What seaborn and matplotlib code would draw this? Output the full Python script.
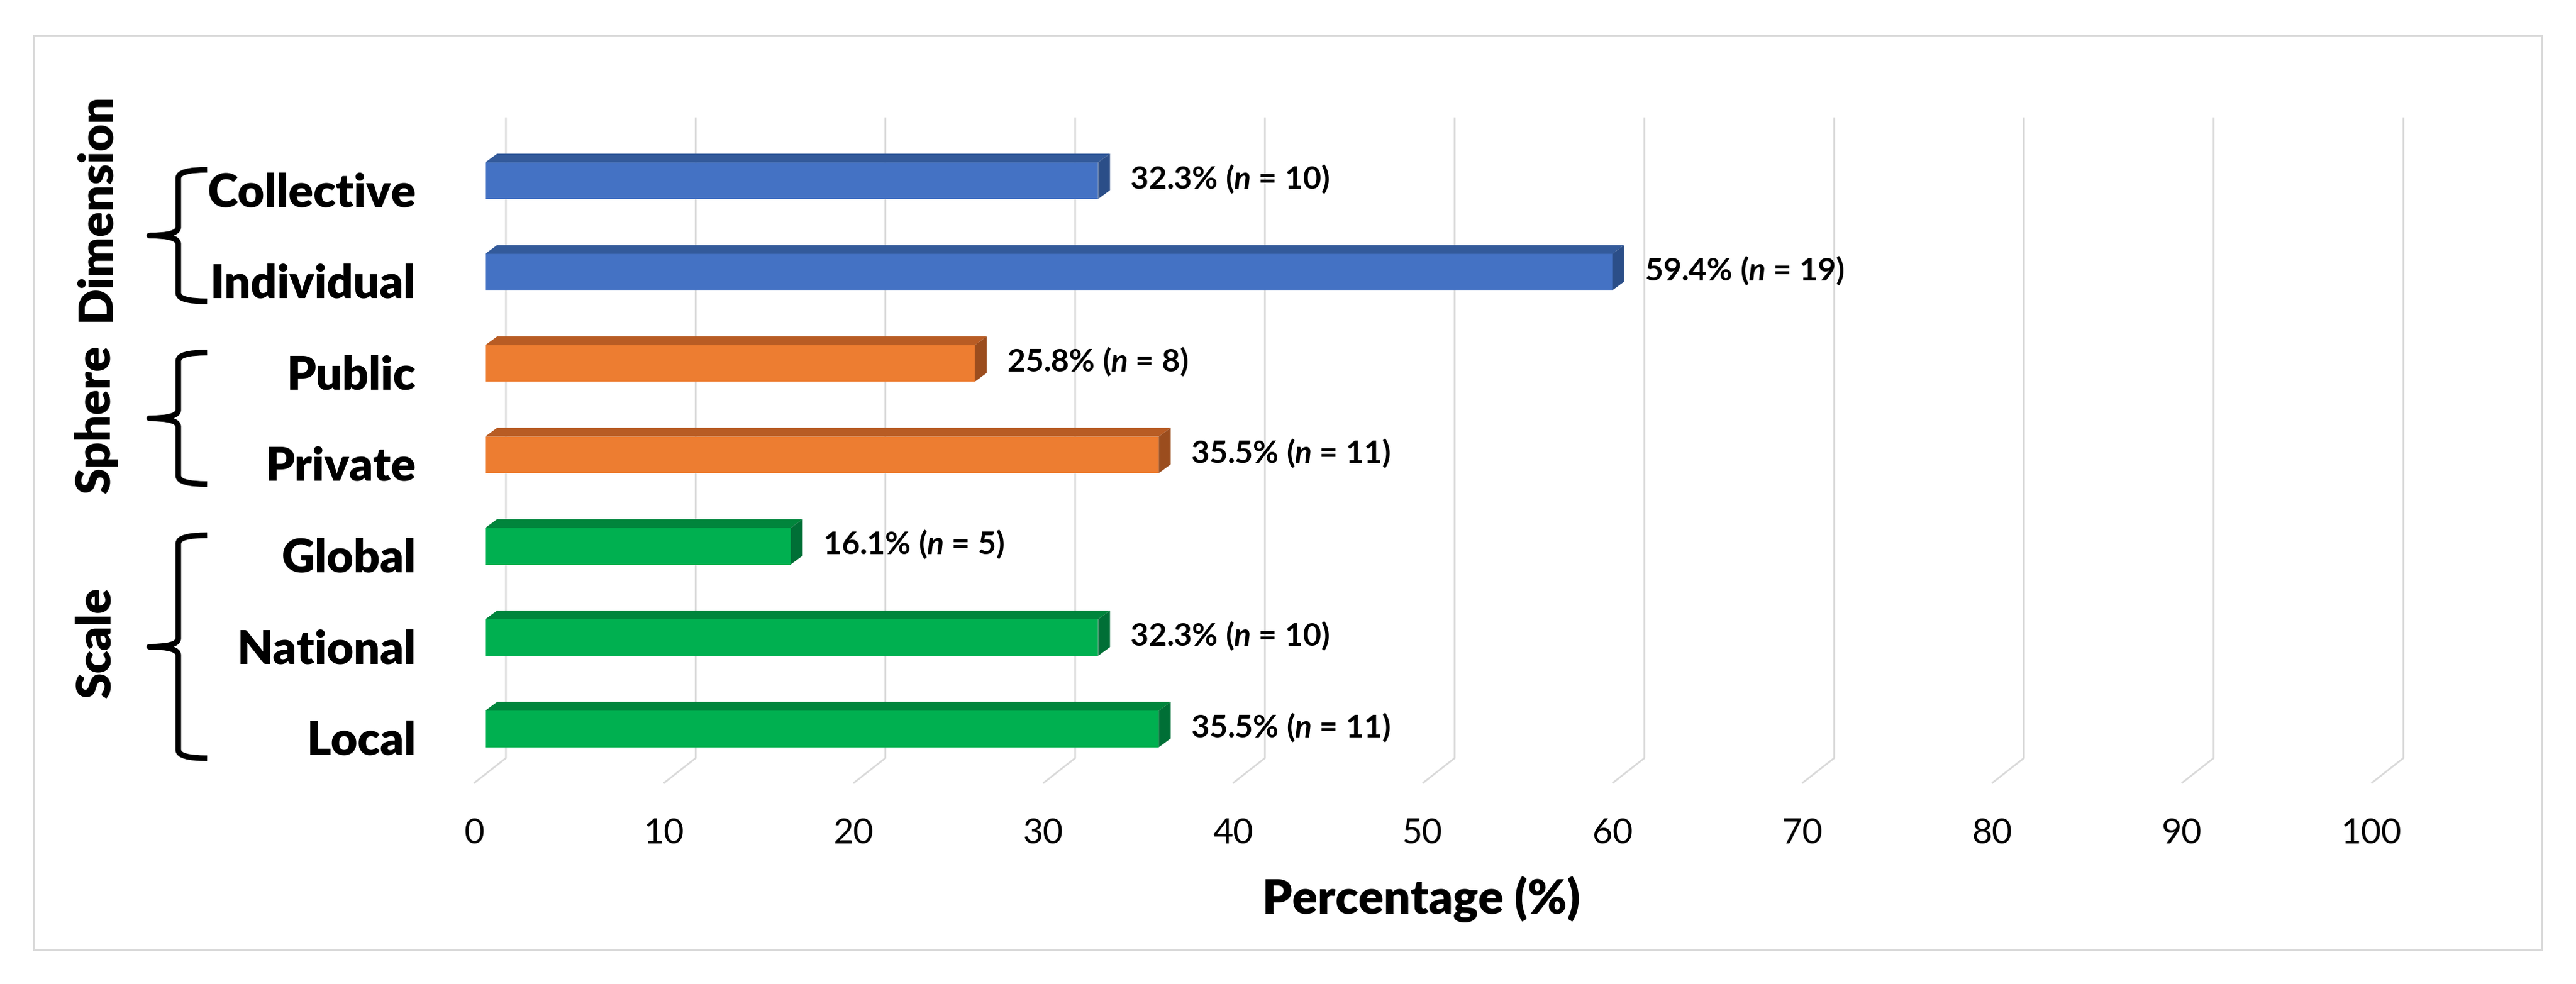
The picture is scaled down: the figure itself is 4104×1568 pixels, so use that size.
import matplotlib
matplotlib.use("Agg")
import matplotlib.pyplot as plt
import matplotlib.transforms as mtransforms
from matplotlib.patches import Polygon, Rectangle, PathPatch
from matplotlib.path import Path
import seaborn as sns
import pandas as pd

# ---------------- data ----------------
categories = ["Collective", "Individual", "Public", "Private", "Global", "National", "Local"]
groups = ["Dimension", "Dimension", "Sphere", "Sphere", "Scale", "Scale", "Scale"]
group_names = ["Dimension", "Sphere", "Scale"]
percentages = [32.3, 59.4, 25.8, 35.5, 16.1, 32.3, 35.5]
counts = [10, 19, 8, 11, 5, 10, 11]
x_ticks = [0, 10, 20, 30, 40, 50, 60, 70, 80, 90, 100]
x_label = "Percentage (%)"

# ---------------- style ----------------
front_colors = {"Dimension": "#4472C4", "Sphere": "#ED7D31", "Scale": "#00B050"}
top_colors = {"Dimension": "#335A9A", "Sphere": "#B85C24", "Scale": "#00853C"}
side_colors = {"Dimension": "#2B4E88", "Sphere": "#9B4D1E", "Scale": "#006F36"}
grid_color = "#D9D9D9"

sns.set_style("white")
plt.rcParams["font.family"] = ["Lato", "DejaVu Sans"]
plt.rcParams["mathtext.fontset"] = "custom"
plt.rcParams["mathtext.it"] = "Lato:bold:italic"
plt.rcParams["mathtext.rm"] = "Lato:bold"
plt.rcParams["mathtext.bf"] = "Lato:bold"

W, H, DPI = 4104, 1568, 100
fig = plt.figure(figsize=(W / DPI, H / DPI), dpi=DPI)

# layout (pixels)
PXX = 30.23   # px per percent
PXY = 145.6   # px per category step
X0PX = 773    # pixel of value 0 on bar front face
Y0PX = 288    # pixel of first category centre
xlim = (-3, 107)
ylim = (6.8, -1.0)
left = X0PX + xlim[0] * PXX
right = X0PX + xlim[1] * PXX
top = Y0PX + ylim[1] * PXY
bottom = Y0PX + ylim[0] * PXY
ax = fig.add_axes([left / W, 1 - bottom / H, (right - left) / W, (bottom - top) / H])

df = pd.DataFrame({"category": categories, "group": groups, "pct": percentages, "n": counts})
sns.barplot(data=df, x="pct", y="category", hue="group", hue_order=group_names,
            palette=front_colors, orient="h", dodge=False, width=0.40, legend=False,
            linewidth=0, saturation=1, ax=ax, zorder=3)

ax.set_xlim(*xlim)
ax.set_ylim(*ylim)

# 3D depth offsets
ddx = 19 / PXX
ddy = -14 / PXY
# back-wall / floor offsets for the gridlines
gx = 33 / PXX
fx = -18 / PXX
g_top = (187 - Y0PX) / PXY
g_floor = (1208 - Y0PX) / PXY
g_front = (1248 - Y0PX) / PXY

for t in x_ticks:
    ax.plot([t + gx, t + gx, t + fx], [g_top, g_floor, g_front], color=grid_color,
            lw=2.0, zorder=0, clip_on=False, solid_capstyle="butt")

for p in list(ax.patches):
    w = p.get_width()
    if w <= 0:
        continue
    x0, y0, h = p.get_x(), p.get_y(), p.get_height()
    idx = int(round(y0 + h / 2))
    g = groups[idx]
    top_face = Polygon([(x0, y0), (x0 + w, y0), (x0 + w + ddx, y0 + ddy), (x0 + ddx, y0 + ddy)],
                       closed=True, fc=top_colors[g], ec="none", zorder=3)
    side_face = Polygon([(x0 + w, y0), (x0 + w + ddx, y0 + ddy), (x0 + w + ddx, y0 + h + ddy),
                         (x0 + w, y0 + h)], closed=True, fc=side_colors[g], ec="none", zorder=3)
    ax.add_patch(top_face)
    ax.add_patch(side_face)
    ax.text(x0 + w + ddx + 1.06, y0 + h / 2 - 0.02,
            f"{percentages[idx]:.1f}% ($n$ = {counts[idx]})",
            ha="left", va="center", fontsize=36, fontweight="bold", color="black", zorder=4)

# ticks
ax.set_xticks([t + fx for t in x_ticks], labels=[str(t) for t in x_ticks])
ax.set_yticks([i + 20 / PXY for i in range(len(categories))], labels=categories)
ax.tick_params(axis="x", length=0, pad=36, labelsize=40, labelcolor="black")
ax.tick_params(axis="y", length=0, pad=14, labelsize=53, labelcolor="black")
for lbl in ax.get_xticklabels():
    lbl.set_va("center")
for lbl in ax.get_yticklabels():
    lbl.set_fontweight("heavy")
    lbl.set_va("center")
ax.grid(False)
for s in ax.spines.values():
    s.set_visible(False)
ax.set_ylabel("")
ax.set_xlabel(x_label, fontsize=54, fontweight="heavy", color="black")
ax.xaxis.label.set_va("center")
ax.xaxis.set_label_coords((2264 - left) / (right - left), (bottom - 1433) / (bottom - top))

# braces and group labels
btrans = mtransforms.blended_transform_factory(fig.transFigure, ax.transData)
tip_x, vert_x, hook_x = 238 / W, 284 / W, 330 / W
r = 0.09
group_label_y = {"Dimension": 0.29, "Sphere": 2.61, "Scale": 5.05}
for gname in group_names:
    idxs = [i for i, g in enumerate(groups) if g == gname]
    a = idxs[0] - 0.12
    b = idxs[-1] + 0.32
    m = (a + b) / 2
    verts = [(hook_x, a), (vert_x, a), (vert_x, a + r),
             (vert_x, m - r), (vert_x, m), (tip_x, m),
             (vert_x, m), (vert_x, m + r),
             (vert_x, b - r), (vert_x, b), (hook_x, b)]
    codes = [Path.MOVETO, Path.CURVE3, Path.CURVE3,
             Path.LINETO, Path.CURVE3, Path.CURVE3,
             Path.CURVE3, Path.CURVE3,
             Path.LINETO, Path.CURVE3, Path.CURVE3]
    ax.add_patch(PathPatch(Path(verts, codes), fill=False, ec="black", lw=6.5,
                           transform=btrans, clip_on=False, capstyle="butt", joinstyle="round"))
    ax.text(153 / W, group_label_y[gname], gname, transform=btrans, rotation=90,
            ha="center", va="center", fontsize=54, fontweight="heavy", color="black")

# outer chart border
fig.patches.append(Rectangle((54 / W, 1 - 1513 / H), (4049 - 54) / W, (1513 - 57) / H,
                             transform=fig.transFigure, fill=False, ec=grid_color, lw=2.2))

fig.savefig("out.png", dpi=DPI, facecolor="white")
